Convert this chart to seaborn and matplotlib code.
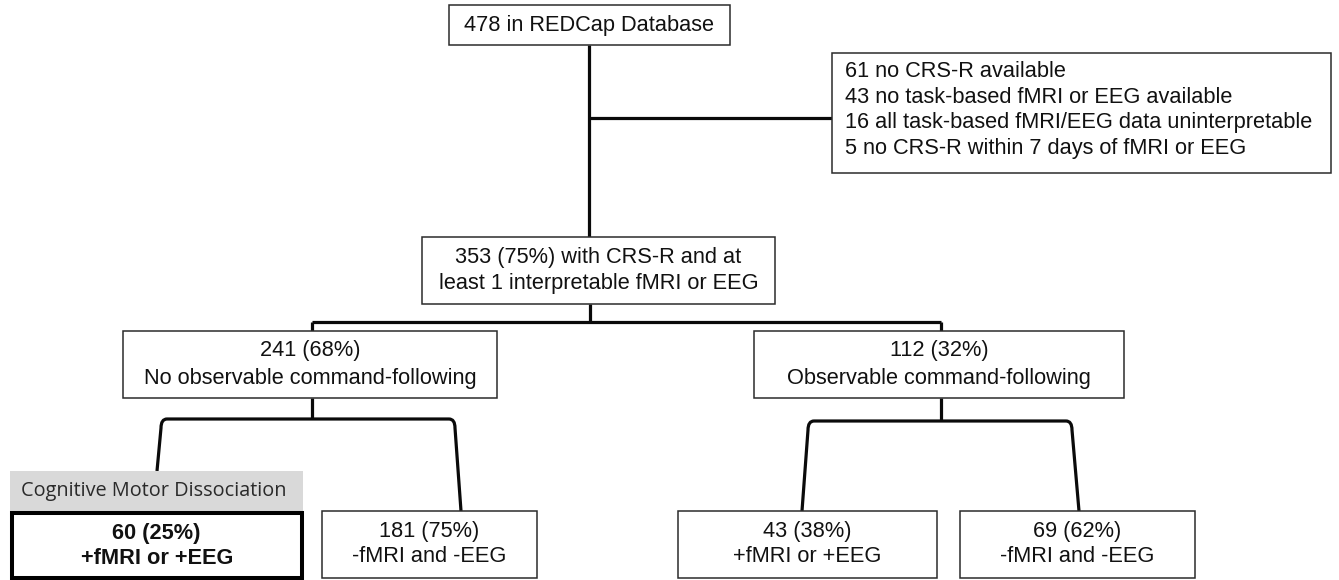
import matplotlib
matplotlib.use("Agg")
import matplotlib.pyplot as plt
import seaborn as sns
from matplotlib.patches import Rectangle, PathPatch
from matplotlib.path import Path

# ---------------- data ----------------
total_n = 478
total_label = "in REDCap Database"
excluded_counts = [61, 43, 16, 5]
excluded_reasons = ["no CRS-R available",
                    "no task-based fMRI or EEG available",
                    "all task-based fMRI/EEG data uninterpretable",
                    "no CRS-R within 7 days of fMRI or EEG"]
included_n = 353
included_pct = 75
included_label = ["with CRS-R and at", "least 1 interpretable fMRI or EEG"]
branch_counts = [241, 112]
branch_pcts = [68, 32]
branch_labels = ["No observable command-following", "Observable command-following"]
leaf_counts = [60, 181, 43, 69]
leaf_pcts = [25, 75, 38, 62]
leaf_labels = ["+fMRI or +EEG", "-fMRI and -EEG", "+fMRI or +EEG", "-fMRI and -EEG"]
cmd_label = "Cognitive Motor Dissociation"

# ---------------- style ----------------
sns.set_theme(style="white")
plt.rcParams['font.family'] = ['Liberation Sans', 'DejaVu Sans']

W, H = 1339, 580
fig = plt.figure(figsize=(W / 100, H / 100), dpi=100)
ax = fig.add_axes([0, 0, 1, 1])
ax.set_xlim(0, W)
ax.set_ylim(H, 0)
ax.axis("off")

BOX_EC = "#2b2b2b"
LINE_C = "#0a0a0a"
BOX_LW = 1.1
LINE_LW = 2.3
FS = 15.7


def box(x0, y0, x1, y1, lw=BOX_LW, fc="white", ec=BOX_EC):
    ax.add_patch(Rectangle((x0, y0), x1 - x0, y1 - y0, fc=fc, ec=ec, lw=lw,
                           clip_on=False, zorder=3))


def two_lines(cx, y0, y1, l1, l2, weight="normal", gap=25):
    cy = (y0 + y1) / 2
    ax.text(cx, cy - gap / 2, l1, ha="center", va="center", fontsize=FS,
            weight=weight, color="#111111", zorder=4)
    ax.text(cx, cy + gap / 2, l2, ha="center", va="center", fontsize=FS,
            weight=weight, color="#111111", zorder=4)


def line(xs, ys):
    ax.plot(xs, ys, color=LINE_C, lw=LINE_LW, solid_capstyle="butt", zorder=2)


def bracket(cx, ytop, ystem, xl_top, xl_bot, yl_bot, xr_top, xr_bot, yr_bot, r=6):
    line([cx, cx], [ystem, ytop])
    verts = [(xl_bot, yl_bot), (xl_top, ytop + r * 1.5), (xl_top, ytop), (xl_top + r, ytop),
             (xr_top - r, ytop), (xr_top, ytop), (xr_top, ytop + r * 1.5), (xr_bot, yr_bot)]
    codes = [Path.MOVETO, Path.LINETO, Path.CURVE3, Path.CURVE3,
             Path.LINETO, Path.CURVE3, Path.CURVE3, Path.LINETO]
    ax.add_patch(PathPatch(Path(verts, codes), fc="none", ec=LINE_C, lw=LINE_LW,
                           capstyle="butt", joinstyle="round", zorder=2))


# ---------------- top ----------------
box(449, 5, 730, 45)
ax.text(589.5, 25.5, f"{total_n} {total_label}", ha="center", va="center",
        fontsize=FS, color="#111111", zorder=4)
line([589, 589], [45, 237])
line([589, 832], [118, 118])

# exclusion box
box(832, 53, 1331, 173)
for i, (c, r) in enumerate(zip(excluded_counts, excluded_reasons)):
    ax.text(845, 71.5 + i * 25.6, f"{c} {r}", ha="left", va="center",
            fontsize=FS, color="#111111", zorder=4)

# included box
box(422, 237, 775, 304)
two_lines(598.5, 237, 304, f"{included_n} ({included_pct}%) {included_label[0]}",
          included_label[1], gap=27)

# split
line([590, 590], [304, 322])
line([312, 941], [322, 322])
line([312, 312], [322, 331])
line([941, 941], [322, 331])

# branch boxes
branch_geo = [(123, 497), (754, 1124)]
for (x0, x1), c, p, lab in zip(branch_geo, branch_counts, branch_pcts, branch_labels):
    box(x0, 331, x1, 398)
    two_lines((x0 + x1) / 2, 331, 398, f"{c} ({p}%)", lab, gap=27.5)

# brackets
bracket(312, 419, 398, 161, 157, 471, 455, 461, 511)
bracket(941, 421, 398, 808, 802, 511, 1072, 1079, 511)

# CMD label
ax.add_patch(Rectangle((10, 471), 293, 40, fc="#d9d9d9", ec="none", zorder=3))
ax.text(21, 491, cmd_label, ha="left", va="center", fontsize=14.3,
        family=["Open Sans", "DejaVu Sans"], color="#2a2a2a", zorder=4)

# leaf boxes
leaf_geo = [(11.5, 302), (322, 537), (678, 937), (960, 1195)]
for i, ((x0, x1), c, p, lab) in enumerate(zip(leaf_geo, leaf_counts, leaf_pcts, leaf_labels)):
    if i == 0:
        box(x0, 513, x1, 578, lw=2.9, ec="#000000")
        two_lines((x0 + x1) / 2, 513, 578, f"{c} ({p}%)", lab, weight="bold", gap=25)
    else:
        box(x0, 511, x1, 578)
        two_lines((x0 + x1) / 2, 511, 578, f"{c} ({p}%)", lab, gap=25)

fig.savefig("out.png", dpi=100, facecolor="white")
